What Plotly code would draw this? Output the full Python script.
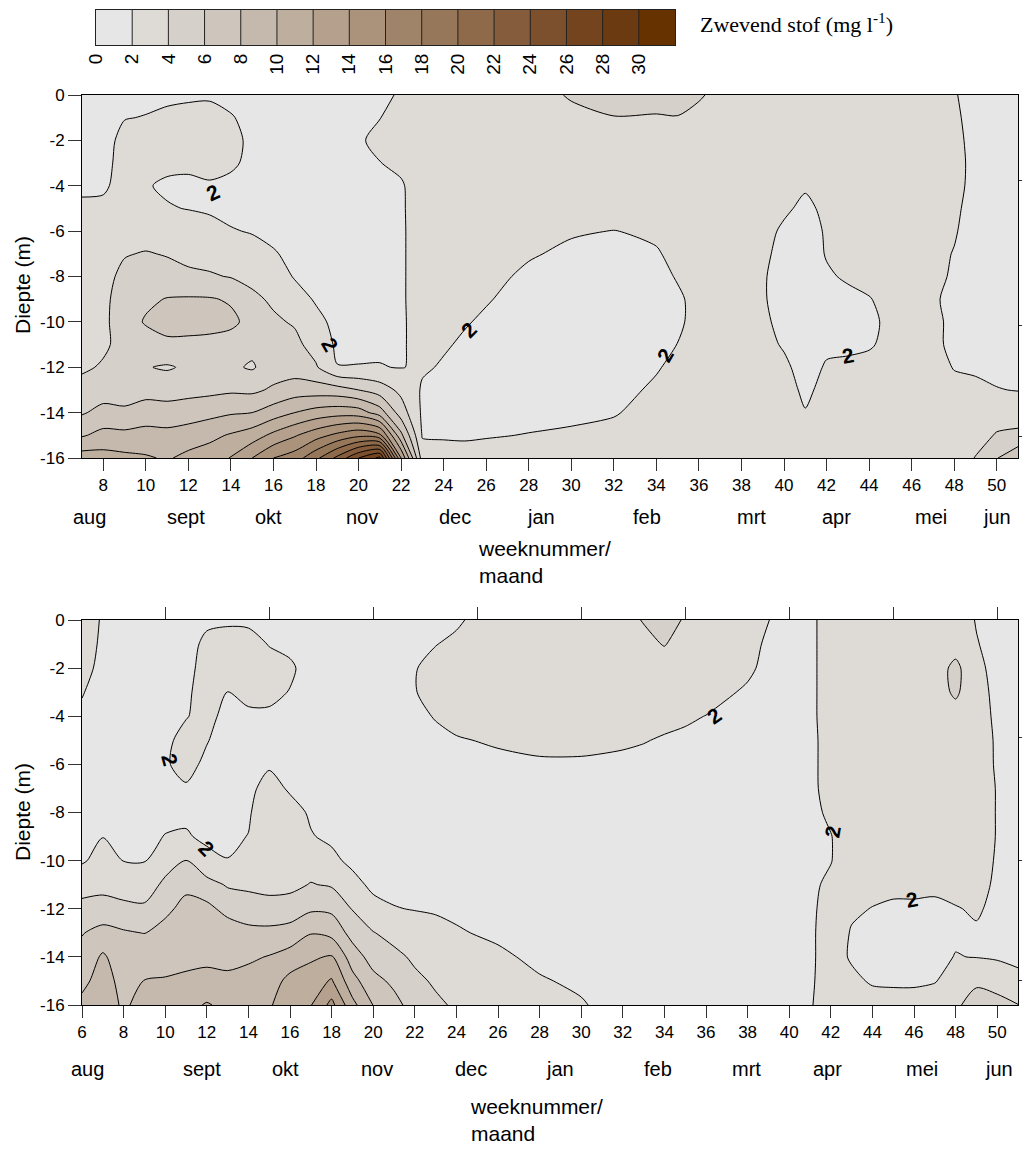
import plotly.graph_objects as go
import numpy as np

# ---------------- data ----------------
DEPTHS = [0, -1, -2, -3, -4, -5, -6, -7, -8, -9, -10, -11, -12, -13, -14, -15, -16]

TOP_WEEKS = [7, 8, 9, 10, 11, 12, 13, 14, 15, 16, 17, 18, 19, 20, 21, 22, 23, 24, 25, 26,
             28, 30, 32, 34, 35, 36, 38, 39, 40, 41, 42, 43, 44, 45, 46, 47, 48, 49, 50, 51]
# one profile (depth 0 .. -16) per week, suspended matter in mg/l
TOP_PROFILES = [
    [1.5, 1.5, 1.5, 1.6, 1.8, 2.2, 2.6, 2.8, 3.0, 3.0, 3.0, 3.2, 3.7, 4.7, 5.8, 7.8, 11.0],
    [1.5, 1.5, 1.5, 1.6, 1.8, 2.3, 2.8, 3.2, 3.5, 3.6, 3.6, 3.7, 4.2, 5.1, 6.6, 8.6, 10.8],
    [1.6, 1.95, 2.4, 2.5, 2.5, 2.7, 3.2, 3.9, 4.4, 4.8, 5.0, 4.6, 4.3, 5.0, 6.4, 8.5, 10.5],
    [1.7, 2.05, 2.5, 2.3, 2.1, 2.6, 3.3, 4.1, 4.6, 5.6, 6.2, 5.0, 4.1, 5.4, 6.8, 8.8, 10.2],
    [1.7, 2.3, 2.5, 2.3, 1.8, 2.1, 3.0, 3.9, 4.6, 6.1, 6.7, 5.6, 3.8, 5.2, 6.8, 8.6, 9.8],
    [1.8, 2.4, 2.6, 2.2, 1.8, 1.95, 2.8, 3.6, 4.3, 6.2, 6.8, 5.5, 4.3, 5.4, 7.0, 9.0, 10.5],
    [1.85, 2.4, 2.6, 2.3, 1.9, 1.8, 2.5, 3.3, 4.2, 6.15, 6.7, 5.4, 4.5, 5.5, 7.4, 9.5, 11.0],
    [1.6, 2.1, 2.4, 2.2, 1.7, 1.6, 2.1, 3.0, 3.9, 5.8, 6.4, 5.2, 4.3, 5.7, 7.8, 10.2, 12.1],
    [1.5, 1.6, 1.7, 1.7, 1.6, 1.6, 1.9, 2.6, 3.5, 4.4, 5.4, 4.5, 3.8, 5.6, 8.0, 11.0, 14.0],
    [1.5, 1.5, 1.5, 1.5, 1.5, 1.6, 1.7, 2.1, 2.7, 3.7, 4.3, 4.6, 5.0, 6.3, 9.0, 12.5, 16.0],
    [1.5, 1.5, 1.5, 1.5, 1.5, 1.6, 1.6, 1.7, 1.9, 2.6, 3.8, 4.5, 5.0, 7.0, 10.0, 13.8, 17.0],
    [1.5, 1.5, 1.5, 1.5, 1.5, 1.5, 1.55, 1.6, 1.6, 1.85, 2.4, 3.2, 4.2, 7.0, 10.8, 15.2, 19.5],
    [1.5, 1.5, 1.5, 1.5, 1.5, 1.5, 1.5, 1.5, 1.5, 1.55, 1.6, 1.7, 2.05, 6.8, 11.2, 16.5, 22.5],
    [1.8, 1.9, 1.9, 1.8, 1.7, 1.6, 1.5, 1.5, 1.5, 1.5, 1.55, 1.7, 2.05, 6.0, 11.0, 17.5, 26.0],
    [1.9, 1.98, 2.2, 1.98, 1.8, 1.7, 1.6, 1.6, 1.6, 1.6, 1.7, 1.8, 2.05, 5.0, 9.0, 16.5, 28.5],
    [2.05, 2.4, 2.5, 2.2, 1.9, 1.9, 1.9, 1.9, 1.9, 1.9, 1.9, 1.9, 1.95, 3.5, 5.0, 8.5, 14.0],
    [2.4, 2.5, 2.6, 2.6, 2.5, 2.4, 2.35, 2.35, 2.35, 2.35, 2.3, 2.3, 2.2, 1.8, 1.7, 1.85, 3.0],
    [2.6, 2.7, 2.8, 2.8, 2.7, 2.6, 2.5, 2.4, 2.4, 2.3, 2.3, 2.15, 1.85, 1.6, 1.6, 1.8, 2.8],
    [2.6, 2.7, 2.8, 2.8, 2.7, 2.6, 2.5, 2.4, 2.3, 2.2, 2.1, 1.8, 1.6, 1.5, 1.5, 1.8, 2.6],
    [2.6, 2.7, 2.8, 2.8, 2.7, 2.6, 2.5, 2.4, 2.3, 2.1, 1.8, 1.5, 1.5, 1.5, 1.5, 1.9, 2.6],
    [2.7, 2.8, 2.8, 2.8, 2.6, 2.5, 2.3, 2.1, 1.8, 1.5, 1.5, 1.5, 1.5, 1.5, 1.6, 2.05, 2.6],
    [4.3, 3.2, 2.9, 2.8, 2.6, 2.4, 2.1, 1.8, 1.5, 1.5, 1.5, 1.5, 1.5, 1.5, 1.7, 2.2, 2.6],
    [4.6, 3.95, 3.2, 2.9, 2.6, 2.3, 1.98, 1.7, 1.5, 1.5, 1.5, 1.5, 1.5, 1.6, 1.9, 2.4, 2.6],
    [4.5, 3.9, 3.1, 2.8, 2.6, 2.4, 2.2, 1.9, 1.6, 1.5, 1.5, 1.6, 1.9, 2.2, 2.5, 2.6, 2.6],
    [4.5, 3.95, 3.0, 2.8, 2.7, 2.6, 2.5, 2.3, 2.1, 1.8, 1.8, 2.02, 2.3, 2.5, 2.6, 2.6, 2.6],
    [4.2, 3.5, 3.0, 2.8, 2.7, 2.7, 2.6, 2.6, 2.5, 2.4, 2.4, 2.4, 2.5, 2.6, 2.6, 2.6, 2.6],
    [2.8, 2.8, 2.8, 2.7, 2.7, 2.6, 2.6, 2.5, 2.5, 2.5, 2.5, 2.5, 2.6, 2.6, 2.6, 2.6, 2.6],
    [2.7, 2.7, 2.7, 2.6, 2.5, 2.4, 2.3, 2.2, 2.1, 2.1, 2.2, 2.3, 2.4, 2.5, 2.6, 2.6, 2.6],
    [2.6, 2.6, 2.5, 2.4, 2.3, 2.15, 1.85, 1.7, 1.6, 1.6, 1.7, 1.9, 2.2, 2.4, 2.5, 2.6, 2.6],
    [2.5, 2.5, 2.4, 2.3, 2.1, 1.8, 1.6, 1.6, 1.6, 1.6, 1.6, 1.6, 1.6, 1.8, 2.05, 2.4, 2.5],
    [2.6, 2.6, 2.5, 2.4, 2.3, 2.2, 2.1, 2.05, 1.9, 1.7, 1.7, 1.8, 2.1, 2.3, 2.4, 2.5, 2.5],
    [2.6, 2.6, 2.6, 2.6, 2.5, 2.5, 2.4, 2.3, 2.1, 1.8, 1.7, 1.8, 2.2, 2.4, 2.5, 2.5, 2.5],
    [2.6, 2.6, 2.6, 2.6, 2.6, 2.5, 2.5, 2.4, 2.3, 1.95, 1.8, 1.9, 2.3, 2.5, 2.5, 2.5, 2.5],
    [2.6, 2.6, 2.6, 2.6, 2.6, 2.6, 2.5, 2.5, 2.4, 2.3, 2.2, 2.25, 2.4, 2.5, 2.5, 2.5, 2.5],
    [2.6, 2.7, 2.7, 2.7, 2.7, 2.6, 2.6, 2.6, 2.5, 2.4, 2.4, 2.4, 2.5, 2.6, 2.6, 2.6, 2.6],
    [2.5, 2.6, 2.6, 2.6, 2.5, 2.5, 2.4, 2.3, 2.2, 2.1, 2.2, 2.2, 2.4, 2.6, 2.6, 2.6, 2.6],
    [2.1, 2.2, 2.3, 2.35, 2.3, 2.2, 2.1, 1.95, 1.9, 1.8, 1.8, 1.8, 1.95, 2.3, 2.5, 2.6, 2.6],
    [1.5, 1.6, 1.65, 1.7, 1.7, 1.6, 1.5, 1.5, 1.5, 1.5, 1.5, 1.5, 1.8, 2.3, 2.6, 3.0, 4.1],
    [1.5, 1.5, 1.5, 1.5, 1.5, 1.5, 1.5, 1.5, 1.5, 1.5, 1.5, 1.5, 1.7, 2.05, 2.9, 4.2, 5.9],
    [1.5, 1.5, 1.5, 1.5, 1.5, 1.5, 1.5, 1.5, 1.5, 1.5, 1.5, 1.5, 1.6, 1.95, 2.9, 4.5, 7.5],
]

BOT_WEEKS = [6, 7, 8, 9, 10, 11, 12, 13, 14, 15, 16, 17, 18, 19, 20, 21, 22, 23, 24, 26, 28,
             30, 31, 32, 33, 34, 35, 36, 38, 39, 40, 41, 42, 43, 44, 45, 46, 47, 48, 49, 50, 51]
BOT_PROFILES = [
    [2.5, 2.4, 2.3, 2.05, 1.85, 1.7, 1.6, 1.6, 1.7, 1.75, 1.8, 3.2, 4.6, 5.9, 6.6, 7.4, 8.6],
    [1.9, 1.85, 1.75, 1.65, 1.6, 1.5, 1.5, 1.55, 1.7, 1.97, 2.6, 3.4, 4.8, 6.6, 8.3, 9.0, 9.4],
    [1.7, 1.65, 1.6, 1.55, 1.5, 1.5, 1.5, 1.55, 1.65, 1.8, 1.97, 2.9, 4.6, 6.2, 6.8, 7.2, 7.6],
    [1.6, 1.6, 1.55, 1.5, 1.5, 1.5, 1.5, 1.55, 1.65, 1.85, 1.93, 2.8, 4.4, 5.95, 7.0, 8.05, 8.9],
    [1.5, 1.5, 1.55, 1.6, 1.7, 1.8, 1.9, 1.8, 1.85, 2.02, 3.0, 4.5, 5.4, 6.9, 7.5, 8.1, 9.0],
    [1.5, 1.5, 1.6, 1.8, 1.95, 2.3, 2.3, 1.9, 1.8, 2.1, 4.02, 5.4, 6.8, 7.3, 7.7, 8.2, 9.3],
    [1.75, 2.3, 2.5, 2.5, 2.3, 2.05, 1.8, 1.7, 1.75, 1.8, 2.3, 4.8, 6.5, 7.2, 7.7, 8.4, 10.2],
    [1.85, 2.4, 2.5, 1.97, 1.7, 1.6, 1.6, 1.7, 1.8, 1.85, 2.02, 3.8, 5.4, 7.05, 7.6, 8.3, 9.4],
    [1.8, 2.4, 2.6, 2.3, 1.8, 1.7, 1.75, 1.8, 1.9, 2.02, 2.6, 3.6, 5.0, 6.5, 7.7, 8.7, 9.5],
    [1.6, 1.95, 2.4, 2.3, 1.8, 1.8, 1.9, 2.3, 2.6, 2.9, 3.2, 3.6, 4.5, 6.6, 8.1, 9.0, 9.7],
    [1.5, 1.7, 2.2, 1.95, 1.7, 1.7, 1.8, 1.9, 2.3, 2.8, 3.2, 3.5, 4.9, 6.8, 8.8, 10.6, 11.6],
    [1.5, 1.5, 1.5, 1.5, 1.55, 1.6, 1.6, 1.75, 1.9, 2.05, 3.1, 4.1, 5.7, 7.9, 9.7, 11.0, 11.9],
    [1.5, 1.5, 1.5, 1.5, 1.5, 1.5, 1.55, 1.6, 1.7, 1.85, 2.2, 3.8, 5.6, 7.4, 10.2, 12.2, 14.6],
    [1.5, 1.5, 1.5, 1.5, 1.5, 1.5, 1.5, 1.5, 1.55, 1.6, 1.8, 2.3, 3.9, 5.3, 7.0, 8.7, 10.6],
    [1.5, 1.5, 1.5, 1.5, 1.5, 1.5, 1.5, 1.5, 1.5, 1.6, 1.7, 1.8, 2.3, 4.1, 5.2, 6.6, 7.95],
    [1.5, 1.5, 1.5, 1.5, 1.5, 1.5, 1.5, 1.5, 1.5, 1.5, 1.6, 1.7, 2.05, 3.2, 4.6, 5.6, 6.6],
    [1.5, 1.7, 1.95, 1.95, 1.8, 1.6, 1.5, 1.5, 1.5, 1.5, 1.5, 1.6, 1.95, 2.6, 3.6, 4.5, 5.2],
    [1.7, 1.97, 2.3, 2.4, 2.05, 1.8, 1.6, 1.5, 1.5, 1.5, 1.5, 1.55, 1.9, 2.3, 2.9, 3.7, 4.4],
    [1.85, 2.2, 2.5, 2.55, 2.4, 1.9, 1.7, 1.6, 1.5, 1.5, 1.5, 1.55, 1.8, 2.1, 2.6, 3.1, 3.7],
    [2.6, 2.7, 2.8, 2.8, 2.6, 2.15, 1.7, 1.5, 1.5, 1.5, 1.5, 1.5, 1.6, 1.8, 2.2, 2.6, 3.0],
    [2.7, 2.8, 2.8, 2.8, 2.6, 2.3, 1.85, 1.6, 1.5, 1.5, 1.5, 1.5, 1.5, 1.5, 1.75, 2.1, 2.6],
    [2.7, 2.8, 2.8, 2.7, 2.6, 2.3, 1.85, 1.6, 1.5, 1.5, 1.5, 1.5, 1.5, 1.5, 1.6, 1.8, 2.1],
    [2.8, 2.8, 2.8, 2.7, 2.6, 2.25, 1.8, 1.6, 1.5, 1.5, 1.5, 1.5, 1.5, 1.5, 1.5, 1.6, 1.8],
    [3.4, 3.0, 2.8, 2.7, 2.5, 2.2, 1.7, 1.5, 1.5, 1.5, 1.5, 1.5, 1.5, 1.5, 1.5, 1.5, 1.5],
    [4.1, 3.5, 2.9, 2.7, 2.5, 2.05, 1.7, 1.5, 1.5, 1.5, 1.5, 1.5, 1.5, 1.5, 1.5, 1.5, 1.5],
    [4.8, 4.1, 3.0, 2.6, 2.3, 1.9, 1.6, 1.5, 1.5, 1.5, 1.5, 1.5, 1.5, 1.5, 1.5, 1.5, 1.5],
    [3.8, 3.2, 2.8, 2.5, 2.15, 1.8, 1.6, 1.5, 1.5, 1.5, 1.5, 1.5, 1.5, 1.5, 1.5, 1.5, 1.5],
    [2.9, 2.8, 2.6, 2.4, 1.98, 1.7, 1.5, 1.5, 1.5, 1.5, 1.5, 1.5, 1.5, 1.5, 1.5, 1.5, 1.5],
    [2.5, 2.4, 2.2, 1.85, 1.6, 1.5, 1.5, 1.5, 1.5, 1.5, 1.5, 1.5, 1.5, 1.5, 1.5, 1.5, 1.5],
    [2.02, 1.8, 1.7, 1.6, 1.5, 1.5, 1.5, 1.5, 1.5, 1.5, 1.5, 1.5, 1.5, 1.5, 1.5, 1.5, 1.5],
    [1.6, 1.6, 1.6, 1.6, 1.6, 1.6, 1.6, 1.65, 1.7, 1.7, 1.7, 1.7, 1.65, 1.6, 1.6, 1.6, 1.6],
    [1.8, 1.75, 1.75, 1.75, 1.75, 1.75, 1.75, 1.8, 1.85, 1.9, 1.95, 1.9, 1.85, 1.85, 1.85, 1.85, 1.9],
    [2.4, 2.5, 2.5, 2.5, 2.5, 2.4, 2.4, 2.3, 2.1, 1.98, 1.98, 2.1, 2.3, 2.4, 2.4, 2.5, 2.6],
    [2.5, 2.6, 2.7, 2.7, 2.7, 2.6, 2.6, 2.5, 2.4, 2.3, 2.3, 2.2, 2.1, 1.95, 1.9, 2.2, 2.5],
    [2.5, 2.6, 2.7, 2.7, 2.7, 2.7, 2.6, 2.6, 2.5, 2.4, 2.3, 2.2, 1.98, 1.7, 1.6, 1.9, 2.4],
    [2.6, 2.7, 2.8, 2.8, 2.8, 2.7, 2.7, 2.6, 2.6, 2.5, 2.4, 2.15, 1.9, 1.6, 1.5, 1.85, 2.4],
    [2.6, 2.7, 2.8, 2.8, 2.8, 2.8, 2.7, 2.7, 2.6, 2.5, 2.4, 2.15, 1.9, 1.6, 1.5, 1.85, 2.4],
    [2.6, 2.8, 2.9, 2.9, 2.8, 2.8, 2.7, 2.7, 2.6, 2.5, 2.4, 2.1, 1.9, 1.7, 1.65, 1.95, 2.5],
    [2.5, 3.0, 4.6, 4.4, 3.0, 2.8, 2.7, 2.6, 2.6, 2.6, 2.5, 2.3, 1.95, 1.8, 2.05, 2.4, 3.6],
    [1.95, 2.05, 2.2, 2.3, 2.35, 2.4, 2.45, 2.5, 2.5, 2.5, 2.45, 2.3, 2.1, 1.9, 1.95, 3.6, 5.0],
    [1.7, 1.7, 1.75, 1.8, 1.85, 1.9, 1.9, 1.95, 1.95, 1.95, 1.9, 1.85, 1.8, 1.75, 1.85, 2.9, 4.9],
    [1.5, 1.5, 1.5, 1.5, 1.5, 1.5, 1.5, 1.5, 1.5, 1.5, 1.5, 1.5, 1.5, 1.6, 1.75, 2.3, 4.05],
]

LEVEL_START, LEVEL_END, LEVEL_STEP = 2, 30, 2
BAND_COLORS = ["#E6E6E6", "#DEDBD7", "#D6D0CA", "#CEC5BD", "#C5B9AD", "#BDAE9E",
               "#B4A08C", "#AA927B", "#A0846A", "#97775A", "#8E6A4A", "#855D3C",
               "#7C502D", "#74441F", "#6C3A10", "#663300"]
CBAR_TICKS = [0, 2, 4, 6, 8, 10, 12, 14, 16, 18, 20, 22, 24, 26, 28, 30]
CBAR_RANGE = [0, 32]

TOP_XTICKS = list(range(8, 51, 2))
BOT_XTICKS = list(range(6, 51, 2))
BOT_TOP_TICKS = [10, 15, 20, 25, 30, 35, 40, 45, 50]
YTICKS = [0, -2, -4, -6, -8, -10, -12, -14, -16]
TOP_RIGHT_TICKS = [-3.75, -10.15, -15.05]
BOT_RIGHT_TICKS = [-4.9, -10.0, -15.0]

MONTHS = ["aug", "sept", "okt", "nov", "dec", "jan", "feb", "mrt", "apr", "mei", "jun"]
TOP_MONTH_POS = [7.33, 11.88, 15.78, 20.15, 24.52, 28.6, 33.54, 38.47, 42.46, 46.9, 50.0]
BOT_MONTH_POS = [6.25, 11.76, 15.76, 20.18, 24.68, 28.97, 33.68, 37.94, 41.84, 46.4, 50.1]

# contour labels (week, depth, angle)
TOP_LABELS = [(13.15, -4.3, -25), (18.65, -11.0, 60), (25.2, -10.35, -45),
              (34.4, -11.46, -60), (43.0, -11.46, -10)]
BOT_LABELS = [(10.24, -5.82, 75), (12.0, -9.48, 45), (36.4, -3.95, -35),
              (42.1, -8.8, -80), (45.9, -11.6, -10)]

# ---------------- figure ----------------
W, H = 1022, 1149
def px_x(p):
    return p / W
def px_y(p):
    return 1 - p / H

colorscale = [[i / (len(BAND_COLORS) - 1), c] for i, c in enumerate(BAND_COLORS)]
contours = dict(start=LEVEL_START, end=LEVEL_END, size=LEVEL_STEP, coloring="fill", showlines=True)
FONT = "Liberation Sans, Arial, sans-serif"

fig = go.Figure()

fig.add_trace(go.Contour(
    x=TOP_WEEKS, y=DEPTHS, z=np.array(TOP_PROFILES).T.tolist(),
    contours=contours, colorscale=colorscale, autocontour=False,
    line=dict(color="black", width=1, smoothing=0.8), showscale=False,
    xaxis="x", yaxis="y", hoverinfo="skip"))

fig.add_trace(go.Contour(
    x=BOT_WEEKS, y=DEPTHS, z=np.array(BOT_PROFILES).T.tolist(),
    contours=contours, colorscale=colorscale, autocontour=False,
    line=dict(color="black", width=1, smoothing=0.8), showscale=False,
    xaxis="x2", yaxis="y2", hoverinfo="skip"))

# colour key as its own small contour strip
fig.add_trace(go.Contour(
    x=[CBAR_RANGE[0], CBAR_RANGE[1] / 2, CBAR_RANGE[1]], y=[0, 1],
    z=[[CBAR_RANGE[0], CBAR_RANGE[1] / 2, CBAR_RANGE[1]],
       [CBAR_RANGE[0], CBAR_RANGE[1] / 2, CBAR_RANGE[1]]],
    contours=contours, colorscale=colorscale, autocontour=False,
    line=dict(color="#222222", width=1, smoothing=0), showscale=False,
    xaxis="x3", yaxis="y3", hoverinfo="skip"))

# dummy traces so the extra tick-only axes get drawn
fig.add_trace(go.Scatter(x=[None], y=[None], xaxis="x4", yaxis="y2", showlegend=False, hoverinfo="skip"))
fig.add_trace(go.Scatter(x=[None], y=[None], xaxis="x", yaxis="y5", showlegend=False, hoverinfo="skip"))
fig.add_trace(go.Scatter(x=[None], y=[None], xaxis="x2", yaxis="y6", showlegend=False, hoverinfo="skip"))

tickfont = dict(family=FONT, size=17, color="black")
xdom = [px_x(82), px_x(1018)]

def xaxis_common(rng, ticks, anchor):
    return dict(domain=xdom, range=rng, tickvals=ticks, ticktext=[str(t) for t in ticks],
                ticks="outside", ticklen=12, tickwidth=1, tickcolor="#333",
                showline=True, linecolor="black", linewidth=1, mirror=True, automargin=False,
                showgrid=False, zeroline=False, tickfont=tickfont, anchor=anchor, fixedrange=True)

def yaxis_common(dom, anchor):
    return dict(domain=dom, range=[-16, 0], tickvals=YTICKS, ticktext=[str(t) for t in YTICKS],
                ticks="outside", ticklen=13, tickwidth=1, tickcolor="#333",
                showline=True, linecolor="black", linewidth=1, mirror=True, automargin=False,
                showgrid=False, zeroline=False, tickfont=tickfont, anchor=anchor, fixedrange=True)

top_ydom = [px_y(458), px_y(95)]
bot_ydom = [px_y(1005), px_y(620)]

fig.update_layout(
    width=W, height=H, margin=dict(l=0, r=0, t=0, b=0, autoexpand=False),
    paper_bgcolor="white", plot_bgcolor="white", showlegend=False,
    xaxis=xaxis_common([7, 51], TOP_XTICKS, "y"),
    yaxis=yaxis_common(top_ydom, "x"),
    xaxis2=xaxis_common([6, 51], BOT_XTICKS, "y2"),
    yaxis2=yaxis_common(bot_ydom, "x2"),
    xaxis3=dict(domain=[px_x(96), px_x(675)], range=CBAR_RANGE, anchor="y3",
                tickvals=CBAR_TICKS, ticktext=[str(t) for t in CBAR_TICKS], tickangle=-90,
                ticks="", showline=True, linecolor="#222", linewidth=1, mirror=True,
                automargin=False, showgrid=False, zeroline=False,
                tickfont=dict(family=FONT, size=19, color="black"), fixedrange=True),
    yaxis3=dict(domain=[px_y(45), px_y(10)], range=[0, 1], anchor="x3",
                showticklabels=False, ticks="", showline=True, linecolor="#222",
                linewidth=1, mirror=True, automargin=False, showgrid=False,
                zeroline=False, fixedrange=True),
    xaxis4=dict(domain=xdom, range=[6, 51], overlaying="x2", side="top", anchor="y2",
                tickvals=BOT_TOP_TICKS, ticks="outside", ticklen=12, tickwidth=1,
                tickcolor="#333", showticklabels=False, showline=False, showgrid=False,
                automargin=False, zeroline=False, fixedrange=True),
    yaxis5=dict(domain=top_ydom, range=[-16, 0], overlaying="y", side="right", anchor="x",
                tickvals=TOP_RIGHT_TICKS, ticks="outside", ticklen=5, tickwidth=1,
                tickcolor="#333", showticklabels=False, showline=False, showgrid=False,
                automargin=False, zeroline=False, fixedrange=True),
    yaxis6=dict(domain=bot_ydom, range=[-16, 0], overlaying="y2", side="right", anchor="x2",
                tickvals=BOT_RIGHT_TICKS, ticks="outside", ticklen=5, tickwidth=1,
                tickcolor="#333", showticklabels=False, showline=False, showgrid=False,
                automargin=False, zeroline=False, fixedrange=True),
)

ann = []
monthfont = dict(family=FONT, size=20, color="black")
for m, xp in zip(MONTHS, TOP_MONTH_POS):
    ann.append(dict(x=xp, y=px_y(517), xref="x", yref="paper", text=m, showarrow=False,
                    font=monthfont, xanchor="center", yanchor="middle"))
for m, xp in zip(MONTHS, BOT_MONTH_POS):
    ann.append(dict(x=xp, y=px_y(1069), xref="x2", yref="paper", text=m, showarrow=False,
                    font=monthfont, xanchor="center", yanchor="middle"))

titlefont = dict(family=FONT, size=21, color="black")
ann.append(dict(x=px_x(476), y=px_y(562), xref="paper", yref="paper", text="weeknummer/<br>maand",
                showarrow=False, font=titlefont, xanchor="left", yanchor="middle", align="left"))
ann.append(dict(x=px_x(468), y=px_y(1120), xref="paper", yref="paper", text="weeknummer/<br>maand",
                showarrow=False, font=titlefont, xanchor="left", yanchor="middle", align="left"))
ann.append(dict(x=px_x(22), y=px_y(285), xref="paper", yref="paper", text="Diepte (m)",
                showarrow=False, font=titlefont, textangle=-90, xanchor="center", yanchor="middle"))
ann.append(dict(x=px_x(22), y=px_y(812), xref="paper", yref="paper", text="Diepte (m)",
                showarrow=False, font=titlefont, textangle=-90, xanchor="center", yanchor="middle"))

ann.append(dict(x=px_x(698), y=px_y(23), xref="paper", yref="paper",
                text="Zwevend stof (mg l<sup>-1</sup>)", showarrow=False,
                font=dict(family="Liberation Serif, Times New Roman, serif", size=22, color="black"),
                xanchor="left", yanchor="middle"))

labfont = dict(family=FONT, size=21, color="black", weight="bold")
for (wx, dy, ang) in TOP_LABELS:
    ann.append(dict(x=wx, y=dy, xref="x", yref="y", text="2", showarrow=False,
                    font=labfont, textangle=ang))
for (wx, dy, ang) in BOT_LABELS:
    ann.append(dict(x=wx, y=dy, xref="x2", yref="y2", text="2", showarrow=False,
                    font=labfont, textangle=ang))

fig.update_layout(annotations=ann)
fig.write_html("out.html")
